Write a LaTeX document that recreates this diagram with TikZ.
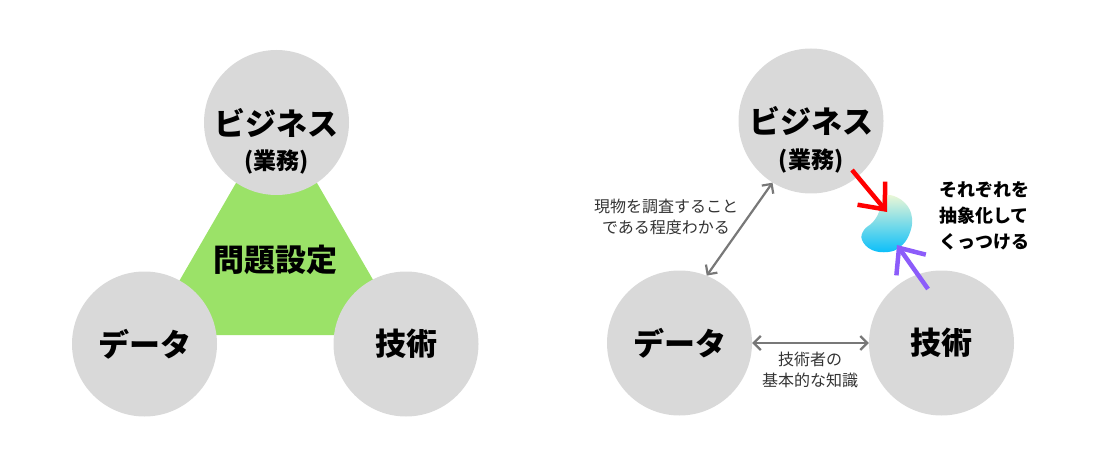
\documentclass[tikz,border=0pt]{standalone}
\usepackage{fontspec}
\usepackage{tikz}
\usetikzlibrary{arrows.meta}
\setmainfont{Noto Sans CJK JP}
\newlength{\circlediameter}
\newlength{\subtitleshift}
\newlength{\pointerwidth}
\newlength{\linkwidth}
\setlength{\circlediameter}{145pt}
\setlength{\subtitleshift}{40pt}
\setlength{\pointerwidth}{4.5pt}
\setlength{\linkwidth}{2.2pt}
\definecolor{circlecolor}{RGB}{217,217,217}
\definecolor{problemcolor}{RGB}{155,226,104}
\definecolor{linkcolor}{RGB}{120,120,120}
\definecolor{notecolor}{RGB}{51,51,51}
\definecolor{businessarrowcolor}{RGB}{255,0,0}
\definecolor{techarrowcolor}{RGB}{140,92,250}
\definecolor{blobtopcolor}{RGB}{236,248,214}
\definecolor{blobmidcolor}{RGB}{140,225,225}
\definecolor{blobbottomcolor}{RGB}{10,190,250}
\tikzstyle{area} = [circle, fill=circlecolor, minimum size=\circlediameter, inner sep=0, font=\fontsize{31}{31}\selectfont\bfseries]
\tikzstyle{subtitle} = [inner sep=0, font=\fontsize{23}{23}\selectfont\bfseries]
\tikzstyle{note} = [align=center, text=notecolor, font=\fontsize{16}{21}\selectfont]
\tikzstyle{boldnote} = [align=center, font=\fontsize{18}{26}\selectfont\bfseries]
\tikzstyle{link} = [draw=linkcolor, line width=\linkwidth, arrows={Straight Barb[length=7pt,width=14pt]-Straight Barb[length=7pt,width=14pt]}]
\tikzstyle{pointer} = [line width=\pointerwidth, arrows={-Straight Barb[length=21pt,width=36pt]}]

\begin{document}
\begin{tikzpicture}[x=1pt, y=-1pt]
	\useasboundingbox (0,0) rectangle (1097,457);
	
	% left: problem setting in the middle
	\fill[problemcolor] (148,335) -- (276.5,113) -- (405,335) -- cycle;
	\node[area] (businessL) at (276.5,122.5) {ビジネス};
	\node[subtitle] (businessLsub) at ([yshift=-\subtitleshift]businessL.center) {(業務)};
	\node[area] (dataL) at (144.5,344) {データ};
	\node[area] (techL) at (406,344) {技術};
	\node[font=\fontsize{31}{31}\selectfont\bfseries] (problem) at (275.5,260) {問題設定};
	
	% right: how the three are joined
	\node[area] (businessR) at (811,121) {ビジネス};
	\node[subtitle] (businessRsub) at ([yshift=-\subtitleshift]businessR.center) {(業務)};
	\node[area] (dataR) at (679.5,343) {データ};
	\node[area] (techR) at (941.5,343) {技術};
	
	\draw[link] (businessR.238) -- (dataR.68);
	\draw[link] (dataR.east) -- (techR.west);
	\node[note] (surveynote) at (666,216.5) {現物を調査すること\\である程度わかる};
	\node[note] (skillnote) at (810,369.5) {技術者の\\基本的な知識};
	
	\shade[top color=blobtopcolor, middle color=blobmidcolor, bottom color=blobbottomcolor]
		plot[smooth cycle, tension=0.7] coordinates {(890,195) (905,203) (912,218) (909,235) (900,247) (888,252) (872,250) (862,240) (864,230) (873,222) (879,212) (882,200)};
	
	\coordinate (businesstail) at (852,170);
	\coordinate (businesshead) at (887,212);
	\coordinate (techtail) at (928,289);
	\coordinate (techhead) at (897,245);
	\draw[pointer, businessarrowcolor] (businesstail) -- (businesshead);
	\draw[pointer, techarrowcolor] (techtail) -- (techhead);
	\node[boldnote] (abstractnote) at (984,216) {それぞれを\\抽象化して\\くっつける};
	
\end{tikzpicture}
\end{document}
